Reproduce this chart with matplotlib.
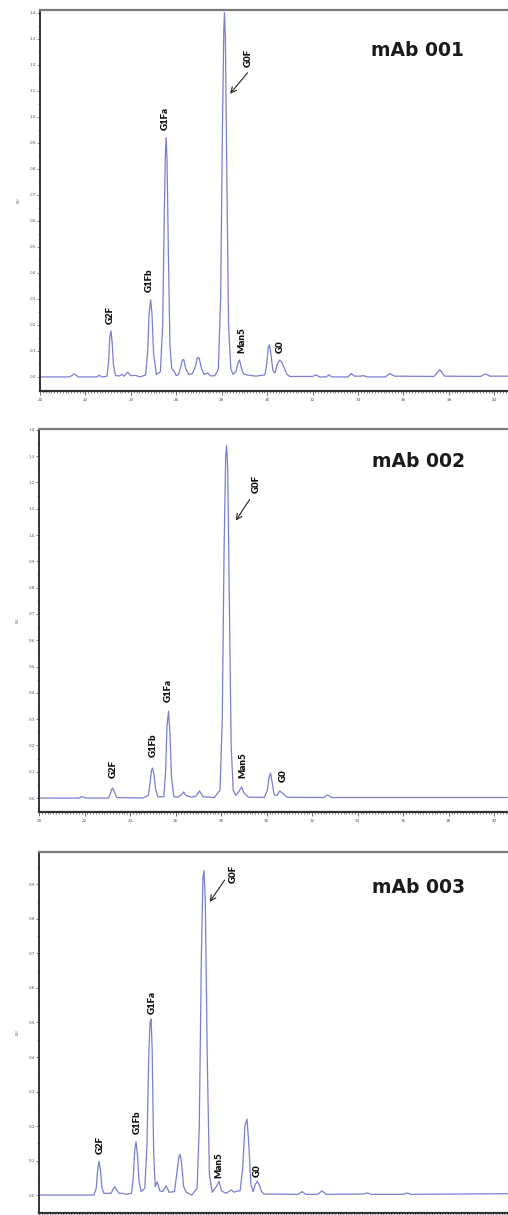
import matplotlib.pyplot as plt
from matplotlib.ticker import MultipleLocator, FormatStrFormatter

# (retention time in min, signal) pairs
trace_001 = [(20.0, 0.0), (21.3, 0.0), (21.42, 0.006), (21.5, 0.012), (21.6, 0.006), (21.7, 0.0),
             (22.5, 0.0), (22.6, 0.006), (22.75, 0.0), (22.95, 0.003), (23.02, 0.06), (23.07, 0.15),
             (23.12, 0.177), (23.17, 0.14), (23.23, 0.05), (23.32, 0.005), (23.5, 0.004), (23.6, 0.01),
             (23.7, 0.003), (23.85, 0.018), (24.0, 0.005), (24.2, 0.006), (24.4, 0.0), (24.65, 0.008),
             (24.74, 0.1), (24.8, 0.24), (24.87, 0.296), (24.93, 0.24), (25.0, 0.09), (25.12, 0.01),
             (25.3, 0.02), (25.4, 0.2), (25.47, 0.62), (25.52, 0.86), (25.55, 0.92), (25.59, 0.84),
             (25.65, 0.48), (25.72, 0.12), (25.8, 0.03), (25.88, 0.025), (26.0, 0.005), (26.1, 0.01),
             (26.2, 0.04), (26.27, 0.066), (26.33, 0.066), (26.42, 0.03), (26.55, 0.01), (26.7, 0.012),
             (26.82, 0.035), (26.93, 0.074), (27.0, 0.074), (27.1, 0.035), (27.22, 0.01), (27.38, 0.015),
             (27.52, 0.004), (27.7, 0.005), (27.85, 0.03), (27.95, 0.3), (28.03, 0.95), (28.09, 1.33),
             (28.12, 1.40), (28.16, 1.3), (28.22, 0.8), (28.3, 0.2), (28.4, 0.03), (28.5, 0.01),
             (28.62, 0.02), (28.72, 0.055), (28.78, 0.065), (28.85, 0.04), (28.95, 0.012), (29.1, 0.008),
             (29.5, 0.003), (29.9, 0.008), (29.98, 0.05), (30.05, 0.115), (30.1, 0.123), (30.16, 0.09),
             (30.25, 0.025), (30.34, 0.015), (30.45, 0.05), (30.55, 0.065), (30.65, 0.055), (30.75, 0.035),
             (30.87, 0.01), (31.0, 0.002), (32.0, 0.002), (32.15, 0.008), (32.3, 0.0), (32.6, 0.0),
             (32.72, 0.008), (32.85, 0.0), (33.55, 0.0), (33.7, 0.013), (33.85, 0.003), (34.1, 0.003),
             (34.25, 0.005), (34.4, 0.0), (35.2, 0.0), (35.4, 0.013), (35.6, 0.003), (37.35, 0.002),
             (37.5, 0.018), (37.6, 0.028), (37.7, 0.015), (37.82, 0.003), (39.4, 0.002), (39.6, 0.012),
             (39.8, 0.003), (40.6, 0.003)]

trace_002 = [(20.0, 0.0), (21.75, 0.0), (21.9, 0.006), (22.05, 0.0), (23.05, 0.0), (23.13, 0.015),
             (23.2, 0.035), (23.24, 0.038), (23.3, 0.025), (23.42, 0.002), (24.55, 0.0), (24.8, 0.01),
             (24.88, 0.06), (24.94, 0.105), (24.99, 0.114), (25.05, 0.09), (25.12, 0.035), (25.22, 0.005),
             (25.48, 0.005), (25.56, 0.1), (25.62, 0.27), (25.69, 0.33), (25.75, 0.25), (25.82, 0.08),
             (25.92, 0.005), (26.1, 0.003), (26.25, 0.012), (26.35, 0.023), (26.45, 0.01), (26.7, 0.003),
             (26.9, 0.008), (27.05, 0.027), (27.2, 0.005), (27.7, 0.002), (27.95, 0.03), (28.05, 0.3),
             (28.13, 0.95), (28.2, 1.3), (28.24, 1.34), (28.29, 1.25), (28.36, 0.75), (28.44, 0.2),
             (28.53, 0.03), (28.65, 0.01), (28.78, 0.025), (28.9, 0.042), (29.0, 0.02), (29.2, 0.003),
             (29.9, 0.003), (30.03, 0.03), (30.1, 0.075), (30.17, 0.095), (30.24, 0.06), (30.33, 0.012),
             (30.45, 0.01), (30.57, 0.027), (30.7, 0.018), (30.9, 0.003), (32.5, 0.002), (32.68, 0.012),
             (32.85, 0.002), (40.6, 0.002)]

trace_003 = [(20.0, 0.0), (22.55, 0.0), (22.66, 0.02), (22.73, 0.075), (22.79, 0.098), (22.85, 0.075),
             (22.93, 0.02), (23.02, 0.005), (23.35, 0.005), (23.45, 0.018), (23.53, 0.024), (23.61, 0.015),
             (23.72, 0.005), (23.9, 0.005), (24.05, 0.002), (24.3, 0.005), (24.38, 0.05), (24.45, 0.13),
             (24.51, 0.155), (24.57, 0.12), (24.65, 0.04), (24.75, 0.01), (24.92, 0.02), (25.02, 0.15),
             (25.1, 0.4), (25.16, 0.5), (25.21, 0.51), (25.26, 0.42), (25.33, 0.12), (25.4, 0.025),
             (25.49, 0.038), (25.62, 0.012), (25.75, 0.01), (25.91, 0.027), (26.05, 0.008), (26.3, 0.01),
             (26.4, 0.06), (26.5, 0.11), (26.56, 0.118), (26.63, 0.09), (26.72, 0.025), (26.85, 0.008),
             (27.1, 0.0), (27.35, 0.02), (27.45, 0.2), (27.55, 0.7), (27.62, 0.92), (27.67, 0.94),
             (27.73, 0.85), (27.82, 0.4), (27.92, 0.06), (28.05, 0.008), (28.25, 0.025), (28.37, 0.04),
             (28.48, 0.012), (28.7, 0.005), (28.93, 0.015), (29.08, 0.008), (29.21, 0.012), (29.35, 0.012),
             (29.47, 0.08), (29.57, 0.2), (29.67, 0.22), (29.75, 0.15), (29.85, 0.03), (29.95, 0.01),
             (30.05, 0.03), (30.14, 0.04), (30.25, 0.028), (30.35, 0.01), (30.45, 0.003), (32.05, 0.002),
             (32.23, 0.01), (32.4, 0.002), (32.95, 0.002), (33.16, 0.012), (33.35, 0.002), (35.05, 0.003),
             (35.26, 0.006), (35.45, 0.002), (36.9, 0.002), (37.12, 0.006), (37.3, 0.002), (41.8, 0.004)]

samples = ['mAb 001', 'mAb 002', 'mAb 003']
peak_names = ['G2F', 'G1Fb', 'G1Fa', 'G0F', 'Man5', 'G0']

W, H = 508, 1215
fig = plt.figure(figsize=(W / 100, H / 100), dpi=100)
fig.patch.set_facecolor('white')


def make_axes(top, bottom, left=40):
	# pixel box -> figure fraction, right edge runs off the page
	return fig.add_axes([left / W, 1 - bottom / H, (W - left) / W, (bottom - top) / H])


def style(ax, xlim, ylim, show_x=True):
	ax.set_xlim(*xlim)
	ax.set_ylim(*ylim)
	ax.spines['right'].set_visible(False)
	ax.spines['top'].set_color('#7a7a7a')
	ax.spines['top'].set_linewidth(1.6)
	ax.spines['left'].set_linewidth(1.4)
	ax.spines['bottom'].set_linewidth(1.6)
	ax.spines['left'].set_color('#333333')
	ax.spines['bottom'].set_color('#333333')
	ax.yaxis.set_major_locator(MultipleLocator(0.1))
	ax.yaxis.set_minor_locator(MultipleLocator(0.05))
	ax.yaxis.set_major_formatter(FormatStrFormatter('%.1f'))
	ax.xaxis.set_major_locator(MultipleLocator(2))
	ax.xaxis.set_minor_locator(MultipleLocator(0.125))
	ax.tick_params(axis='y', which='major', labelsize=3, length=2, width=0.5, pad=1, colors='#555555')
	ax.tick_params(axis='y', which='minor', length=1.2, width=0.4, color='#555555')
	ax.tick_params(axis='x', which='major', labelsize=3, length=3, width=0.6, pad=2, colors='#555555',
	               labelbottom=show_x)
	ax.tick_params(axis='x', which='minor', length=1.5, width=0.5, color='#555555')
	ax.set_ylabel('EU', fontsize=3, color='#666666', labelpad=6)


def label(ax, name, x, y):
	ax.text(x, y, name, rotation=90, ha='center', va='bottom', fontsize=7,
	        fontweight='heavy', family=['Lato', 'DejaVu Sans'], color='#111111')


def draw(ax, trace):
	rt, sig = zip(*trace)
	ax.plot(rt, sig, color='#6b70cc', lw=0.9, alpha=0.9)


title_kw = dict(fontsize=13.5, fontweight='bold', family=['DejaVu Sans'], color='#1a1a1a',
                ha='left', va='center')
arrow_kw = dict(arrowstyle='->', color='#222222', lw=0.8)

# mAb 001
ax1 = make_axes(10, 391)
draw(ax1, trace_001)
style(ax1, (20, 40.6), (-0.054, 1.41))
for name, x, y in zip(peak_names, [23.11, 24.82, 25.53, 29.17, 28.9, 30.57],
                      [0.204, 0.327, 0.95, 1.19, 0.092, 0.092]):
	label(ax1, name, x, y)
ax1.annotate('', xy=(28.29, 1.08), xytext=(29.21, 1.177), arrowprops=arrow_kw)
ax1.text(0.707, 0.895, samples[0], transform=ax1.transAxes, **title_kw)

# mAb 002
ax2 = make_axes(429, 812, left=39)
draw(ax2, trace_002)
style(ax2, (20, 40.6), (-0.053, 1.403))
for name, x, y in zip(peak_names, [23.24, 25.03, 25.69, 29.54, 28.97, 30.72],
                      [0.076, 0.156, 0.365, 1.16, 0.076, 0.061]):
	label(ax2, name, x, y)
ax2.annotate('', xy=(28.58, 1.046), xytext=(29.32, 1.144), arrowprops=arrow_kw)
ax2.text(0.71, 0.914, samples[1], transform=ax2.transAxes, **title_kw)

# mAb 003
ax3 = make_axes(852, 1213, left=39)
draw(ax3, trace_003)
style(ax3, (20, 41.8), (-0.052, 0.994), show_x=False)
for name, x, y in zip(peak_names, [22.84, 24.56, 25.26, 29.02, 28.37, 30.14],
                      [0.119, 0.177, 0.525, 0.904, 0.049, 0.052]):
	label(ax3, name, x, y)
ax3.annotate('', xy=(27.86, 0.843), xytext=(28.7, 0.919), arrowprops=arrow_kw)
ax3.text(0.71, 0.903, samples[2], transform=ax3.transAxes, **title_kw)

plt.savefig('out.png', dpi=100)
